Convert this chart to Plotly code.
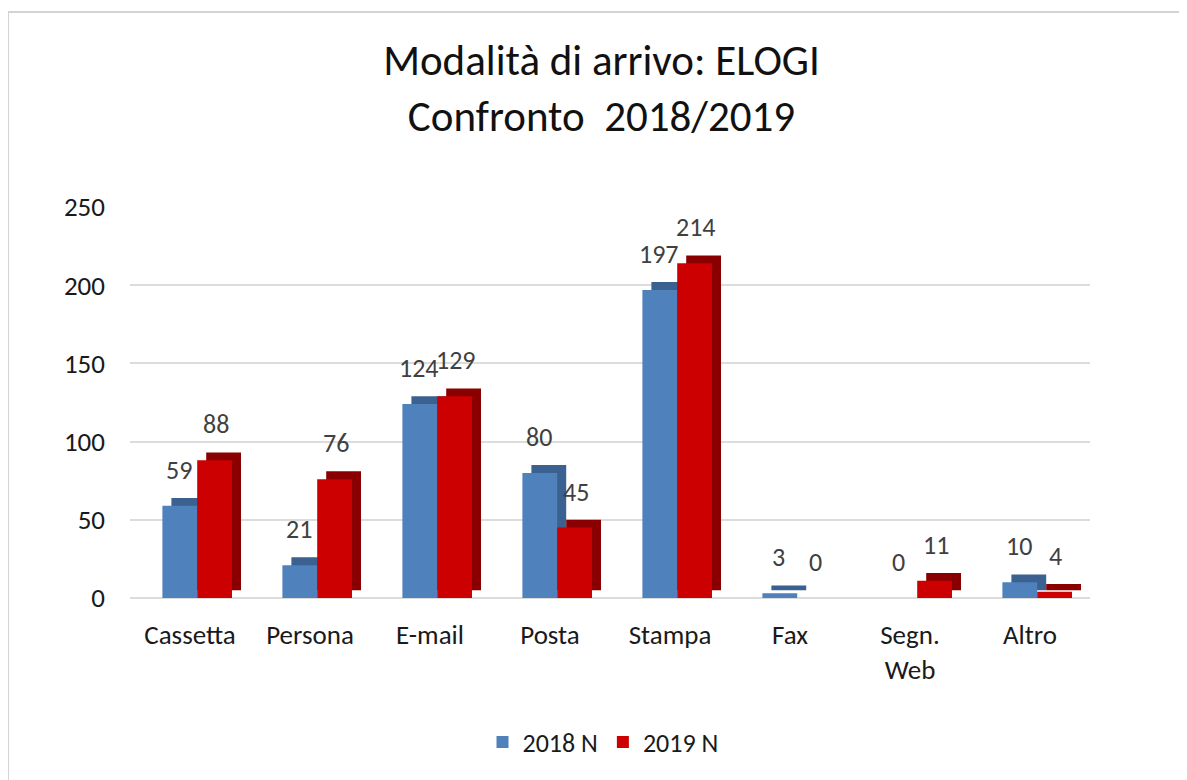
import plotly.graph_objects as go

categories = ["Cassetta", "Persona", "E-mail", "Posta", "Stampa", "Fax", "Segn.<br>Web", "Altro"]
series_2018 = [59, 21, 124, 80, 197, 3, 0, 10]
series_2019 = [88, 76, 129, 45, 214, 0, 11, 4]
name_2018 = "2018 N"
name_2019 = "2019 N"
y_ticks = [0, 50, 100, 150, 200, 250]

FONT = "Carlito, 'Liberation Sans Narrow', 'Open Sans', sans-serif"
BLUE = "#4F81BD"
BLUE_DARK = "#3A618F"
RED = "#CC0000"
RED_DARK = "#8A0000"
LABEL_COLOR = "#404040"
W = 0.29
SHIFT = 0.06
DX = 0.075
DEPTH = 5

# plot area in page pixels
L, R, T, B = 122, 105, 199, 190
PW = 1187 - L - R
PH = 780 - T - B
CAT_PX = PW / len(categories)

fig = go.Figure()
fig.add_trace(go.Bar(x=categories, y=series_2018, base=DEPTH, offset=-W + SHIFT + DX, width=W,
                     marker=dict(color=BLUE_DARK, line=dict(width=0)), showlegend=False,
                     hoverinfo="skip"))
fig.add_trace(go.Bar(x=categories, y=series_2018, offset=-W + SHIFT, width=W, name=name_2018,
                     marker=dict(color=BLUE, line=dict(width=0))))
fig.add_trace(go.Bar(x=categories, y=series_2019, base=DEPTH, offset=SHIFT + DX, width=W,
                     marker=dict(color=RED_DARK, line=dict(width=0)), showlegend=False,
                     hoverinfo="skip"))
fig.add_trace(go.Bar(x=categories, y=series_2019, offset=SHIFT, width=W, name=name_2019,
                     marker=dict(color=RED, line=dict(width=0))))

# data labels
for cat, v18, v19 in zip(categories, series_2018, series_2019):
    fig.add_annotation(x=cat, y=v18, text=str(v18), showarrow=False, yanchor="bottom",
                       xshift=(SHIFT - W / 2) * CAT_PX - 1, yshift=18,
                       font=dict(family=FONT, size=26, color=LABEL_COLOR))
    fig.add_annotation(x=cat, y=v19, text=str(v19), showarrow=False, yanchor="bottom",
                       xshift=(SHIFT + W / 2) * CAT_PX + 1, yshift=18,
                       font=dict(family=FONT, size=26, color=LABEL_COLOR))

fig.update_layout(
    width=1187, height=780,
    barmode="overlay",
    paper_bgcolor="white", plot_bgcolor="white",
    margin=dict(l=L, r=R, t=T, b=B),
    font=dict(family=FONT, size=27, color="#1a1a1a"),
    title=dict(text="Modalità di arrivo: ELOGI<br>Confronto  2018/2019",
               x=0.5, xanchor="center", y=1 - 67 / 780, yanchor="top",
               font=dict(family=FONT, size=43, color="#111111")),
    legend=dict(orientation="h", x=0.5 - 7 / PW, xanchor="center", y=-(734 - (T + PH)) / PH,
                yanchor="middle", font=dict(family=FONT, size=26, color="#1a1a1a"),
                traceorder="normal", itemwidth=30),
    showlegend=True,
)
fig.update_yaxes(range=[0, 250], tickvals=y_ticks, showgrid=True, gridcolor="#dcdcdc",
                 gridwidth=2, zeroline=True, zerolinecolor="#dcdcdc", zerolinewidth=2,
                 showline=False, ticks="", ticklabelstandoff=24,
                 tickfont=dict(family=FONT, size=27, color="#1a1a1a"))
fig.update_xaxes(showgrid=False, showline=False, ticks="", ticklabelstandoff=18,
                 tickfont=dict(family=FONT, size=27, color="#1a1a1a"))

# chart frame (top and left border as in the reference crop)
fig.add_shape(type="rect", xref="paper", yref="paper",
              x0=-L / PW, x1=1.2, y0=-1.0, y1=1 + (T - 4) / PH,
              line=dict(color="#d4d4d4", width=2), fillcolor="rgba(0,0,0,0)", layer="below")

fig.write_html("out.html")
